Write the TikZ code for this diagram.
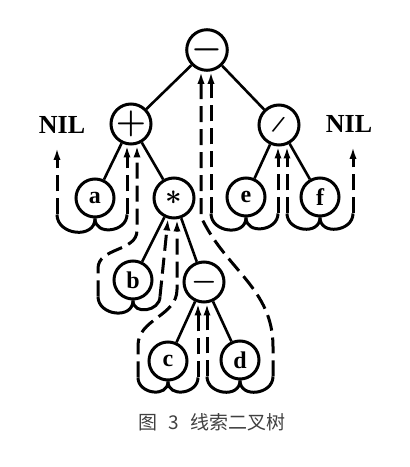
\documentclass[tikz,border=0pt]{standalone}
\usepackage{fontspec}
\setmainfont{Liberation Serif}
\newfontfamily\cjkfont{Noto Sans CJK SC}
\usetikzlibrary{arrows.meta,calc}

\begin{document}
\begin{tikzpicture}[x=0.5pt, y=0.5pt,
  op/.style={circle, draw, line width=1.5pt, minimum size=20pt, inner sep=0pt,
             font=\LARGE\boldmath},
  leaf/.style={op, minimum size=19pt, font=\fontsize{12}{12}\selectfont\bfseries},
  nil/.style={inner sep=1pt, font=\fontsize{13}{13}\selectfont\bfseries},
  edge/.style={line width=1.3pt},
  ubend/.style={line width=1.5pt, looseness=1.4},
  thread/.style={line width=1.5pt, dash pattern=on 8pt off 3.5pt,
                 -{Latex[length=6pt,width=3.6pt]}},
]
\useasboundingbox (0,0) rectangle (409,467);

\node[op] (root)  at (207,417) {$-$};
\node[op] (plus)  at (131,343) {$+$};
\node[op, font=\fontsize{13}{13}\selectfont\bfseries] (slash) at (279,342) {\rotatebox{-20}{/}};
\node[leaf] (a) at (95,269)  {a};
\node[op, font=\Large\boldmath] (star) at (174,269) {$\ast$};
\node[leaf] (e) at (246,270) {e};
\node[leaf] (f) at (320,270) {f};
\node[leaf] (b) at (133,187) {b};
\node[op, font=\Large\boldmath] (minus) at (204,185) {$-$};
\node[leaf] (c) at (168,106) {c};
\node[leaf] (d) at (240,107) {d};
\node[nil] (nilL) at (62,342) {NIL};
\node[nil] (nilR) at (349,343) {NIL};

\draw[edge] (root)--(plus);  \draw[edge] (root)--(slash);
\draw[edge] (plus)--(a);     \draw[edge] (plus)--(star);
\draw[edge] (slash)--(e);    \draw[edge] (slash)--(f);
\draw[edge] (star)--(b);     \draw[edge] (star)--(minus);
\draw[edge] (minus)--(c);    \draw[edge] (minus)--(d);

% threads: solid bend under the leaf, dashed run up to the target
\draw[ubend] (a.south) to[out=-90,in=-90] ++(-38,4) coordinate (a-l);
\draw[ubend] (a.south) to[out=-90,in=-90] ++(32,4)  coordinate (a-r);
\draw[ubend] (b.south) to[out=-90,in=-90] ++(-35,4) coordinate (b-l);
\draw[ubend] (b.south) to[out=-90,in=-90] ++(27,4)  coordinate (b-r);
\draw[ubend] (c.south) to[out=-90,in=-90] ++(-30,4) coordinate (c-l);
\draw[ubend] (c.south) to[out=-90,in=-90] ++(30,4)  coordinate (c-r);
\draw[ubend] (d.south) to[out=-90,in=-90] ++(-33,4) coordinate (d-l);
\draw[ubend] (d.south) to[out=-90,in=-90] ++(33,4)  coordinate (d-r);
\draw[ubend] (e.south) to[out=-90,in=-90] ++(-35,4) coordinate (e-l);
\draw[ubend] (e.south) to[out=-90,in=-90] ++(32,4)  coordinate (e-r);
\draw[ubend] (f.south) to[out=-90,in=-90] ++(-33,4) coordinate (f-l);
\draw[ubend] (f.south) to[out=-90,in=-90] ++(33,4)  coordinate (f-r);

\draw[thread, shorten >=6pt] (a-l)--(a-l |- nilL.south);
\draw[thread] (a-r)--(a-r |- plus.south);
\draw[thread] (b-l)--++(0,28) to[out=90,in=-90] ($(plus.south)+(6,-85)$)--($(plus.south)+(6,0)$);
\draw[thread] (b-r)--($(star.south)+(-6,1)$);
\draw[thread] (c-l)--++(0,32) to[out=90,in=-90] ($(star.south)+(3,-70)$)--($(star.south)+(3,0)$);
\draw[thread] (c-r)--(c-r |- minus.south);
\draw[thread] (d-l)--(d-l |- minus.south);
\draw[thread] (d-r)--++(0,30) to[out=90,in=-65] ($(root.south)+(-6,-145)$)--($(root.south)+(-6,0)$);
\draw[thread] (e-l)--(e-l |- root.south);
\draw[thread] (e-r)--(e-r |- slash.south);
\draw[thread] (f-l)--(f-l |- slash.south);
\draw[thread, shorten >=6pt] (f-r)--(f-r |- nilR.south);

\node[font=\fontsize{9.5}{9.5}\selectfont\cjkfont, text=black!75] (caption) at (212,45)
  {图\hspace{0.6em}3\hspace{0.6em}线索二叉树};
\end{tikzpicture}
\end{document}
